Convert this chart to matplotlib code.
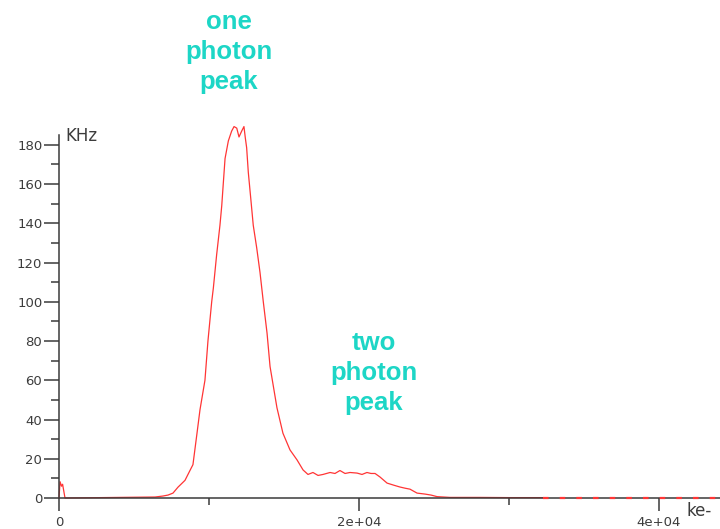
"""Spectrum with one and two photon peaks, redrawn with matplotlib."""

import matplotlib
matplotlib.use("Agg")
import matplotlib.pyplot as plt
from matplotlib.ticker import MultipleLocator, FixedLocator, FuncFormatter

# charge (ke-) and rate (KHz)
charge = [0, 70, 170, 240, 400, 6400, 6930, 7270, 7600, 7930, 8400, 8730,
          8930, 9200, 9400, 9730, 9930, 10180, 10290, 10510, 10730, 10850,
          10950, 11070, 11290, 11510, 11670, 11850, 12000, 12180, 12330,
          12420, 12510, 12620, 12780, 12950, 13180, 13400, 13620, 13870,
          14070, 14530, 14930, 15400, 15870, 16270, 16600, 16930, 17270,
          17600, 18070, 18400, 18730, 19070, 19400, 19870, 20200, 20530,
          20800, 21070, 21400, 21870, 22330, 22730, 23070, 23400, 23870,
          24400, 24800, 25200, 26070, 28070, 30070, 32270]
rate = [0, 8.3, 6, 7, 0, 0.5, 1, 1.5, 2.5, 5.5, 9, 14,
        17, 33, 45, 60, 80, 100, 107, 124, 139, 149,
        160, 173, 182, 187, 189.3, 188.5, 184, 187, 189.3,
        183.6, 178.5, 166, 153, 139, 127.5, 115, 100, 84,
        67, 46, 33, 24.5, 19.4, 14.3, 12, 13, 11.5,
        12, 13, 12.5, 14, 12.5, 13, 12.7, 12, 13,
        12.5, 12.5, 10.7, 7.6, 6.5, 5.6, 5, 4.5, 2.5,
        2, 1.5, 0.7, 0.3, 0.3, 0.2, 0.2]

# empty tail of the histogram
tail_charge = [32270, 44100]
tail_rate = [0, 0]

y_ticks = list(range(0, 181, 20))
x_ticks = [0, 20000, 40000]

RED = "#ff3535"
CYAN = "#1dd6c6"
AXIS = "#3a3a3a"
TXT = "#3c3c3c"

fig = plt.figure(figsize=(7.2, 5.29), dpi=100)
H = 529
ax = fig.add_axes([59 / 720, 1 - 498 / H, 1 - 59 / 720, (498 - 135) / H])

ax.plot(charge, rate, color=RED, lw=0.9, clip_on=False)
ax.plot(tail_charge, tail_rate, color=RED, lw=1.6, ls=(0, (2.5, 5)),
        clip_on=False, zorder=3)

ax.set_xlim(0, 44067)
ax.set_ylim(0, 185)

for s in ("top", "right"):
    ax.spines[s].set_visible(False)
for s in ("left", "bottom"):
    ax.spines[s].set_color(AXIS)
    ax.spines[s].set_linewidth(1.1)

ax.yaxis.set_major_locator(FixedLocator(y_ticks))
ax.yaxis.set_minor_locator(MultipleLocator(10))
ax.xaxis.set_major_locator(FixedLocator(x_ticks))
ax.xaxis.set_minor_locator(FixedLocator([10000, 30000]))
ax.xaxis.set_major_formatter(
    FuncFormatter(lambda v, p: "0" if v == 0 else f"{v:.0e}"))

ax.tick_params(axis="y", which="major", length=11, width=1.1, color=AXIS,
               labelsize=9.5, labelcolor=TXT, pad=1)
ax.tick_params(axis="y", which="minor", length=6, width=1.1, color=AXIS)
ax.tick_params(axis="x", which="major", length=9, width=1.1, color=AXIS,
               labelsize=9.5, labelcolor=TXT, pad=4)
ax.tick_params(axis="x", which="minor", length=5, width=1.1, color=AXIS)

fig.text(65 / 720, 1 - 136 / H, "KHz", fontsize=12, color=TXT,
         ha="left", va="center")
fig.text(687 / 720, 1 - 511 / H, "ke-", fontsize=12, color=TXT,
         ha="left", va="center")

fig.text(229 / 720, 1 - 52 / H, "one\nphoton\npeak", fontsize=18.5,
         family="Liberation Sans", weight="bold", color=CYAN,
         ha="center", va="center", linespacing=1.3)
fig.text(374 / 720, 1 - 373 / H, "two\nphoton\npeak", fontsize=18.5,
         family="Liberation Sans", weight="bold", color=CYAN,
         ha="center", va="center", linespacing=1.3)

fig.savefig("out.png", dpi=100)
print("Gerado: out.png")
